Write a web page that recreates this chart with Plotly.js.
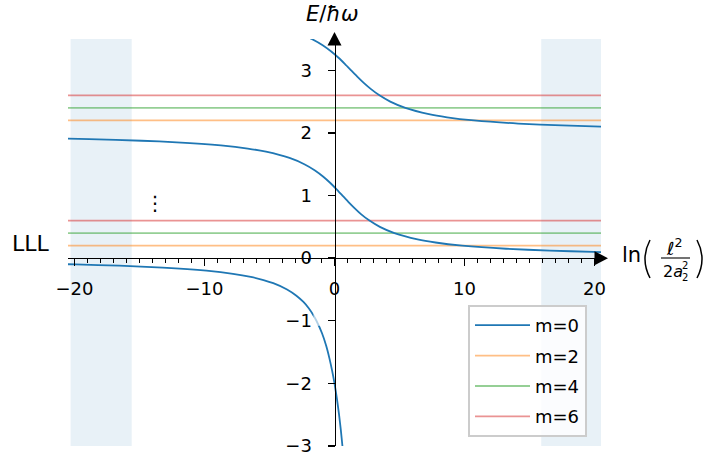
<!DOCTYPE html>
<html><head><meta charset="utf-8">
<script src="https://cdn.plot.ly/plotly-3.0.1.min.js"></script>
<style>html,body{margin:0;padding:0;background:#fff}#chart{width:709px;height:460px}</style>
</head><body><div id="chart"></div>
<script>
// ---- data ----
const xRange = [-20.5, 20.5];
const yRange = [-3, 3.5];
// m=0 branches (x = ln(l^2/2a^2), y = E/hbar omega)
const m0Branch1X = [-20.5, -19.92, -16.57, -13.22, -9.85, -7.81, -6.44, -5.46, -4.71, -3.65, -2.93, -2.39, -1.98, -1.66, -1.39, -0.96, -0.64, -0.39, -0.18, 0.0, 0.19, 0.35, 0.49, 0.61, 0.66];
const m0Branch1Y = [-0.0975, -0.1, -0.12, -0.15, -0.2, -0.25, -0.3, -0.35, -0.4, -0.5, -0.6, -0.7, -0.8, -0.9, -1.0, -1.2, -1.4, -1.6, -1.8, -2.0, -2.25, -2.5, -2.75, -3.0, -3.1];
const m0Branch2X = [-20.5, -18.87, -14.83, -12.14, -8.74, -6.67, -5.27, -3.46, -2.32, -1.50, -0.86, -0.32, 0.16, 0.61, 1.06, 1.54, 2.06, 2.69, 3.49, 4.61, 6.39, 7.77, 9.82, 13.20, 16.56, 19.91, 20.5];
const m0Branch2Y = [1.908, 1.9, 1.875, 1.85, 1.8, 1.75, 1.7, 1.6, 1.5, 1.4, 1.3, 1.2, 1.1, 1.0, 0.9, 0.8, 0.7, 0.6, 0.5, 0.4, 0.3, 0.25, 0.2, 0.15, 0.12, 0.1, 0.0973];
const m0Branch3X = [-2.27, -1.75, -0.91, -0.25, 0.31, 0.81, 1.28, 1.75, 2.25, 2.81, 3.46, 4.29, 5.45, 7.26, 8.66, 10.73, 14.13, 17.51, 20.5];
const m0Branch3Y = [3.55, 3.5, 3.4, 3.3, 3.2, 3.1, 3.0, 2.9, 2.8, 2.7, 2.6, 2.5, 2.4, 2.3, 2.25, 2.2, 2.15, 2.12, 2.102];
// horizontal levels for m=2,4,6
const levelNames = ['m=2', 'm=4', 'm=6'];
const levelValues = [[0.2, 2.2], [0.4, 2.4], [0.6, 2.6]];
const levelColors = ['rgba(255,127,14,0.5)', 'rgba(44,160,44,0.5)', 'rgba(214,39,40,0.5)'];
// shaded regions
const shadeLeft = [-20.3, -15.6];
const shadeRight = [15.9, 20.5];
const xTickVals = [-20, -10, 0, 10, 20];
const yTickVals = [-3, -2, -1, 0, 1, 2, 3];

// ---- geometry helpers (pixel -> paper) ----
const L = 68, T = 39, W = 533, H = 407;
const fx = p => (p - L) / W;
const fy = p => (T + H - p) / H;

const font = 'DejaVu Sans, Verdana, sans-serif';

const traces = [];
traces.push({
  x: [...m0Branch1X, null, ...m0Branch2X, null, ...m0Branch3X],
  y: [...m0Branch1Y, null, ...m0Branch2Y, null, ...m0Branch3Y],
  mode: 'lines', name: 'm=0', line: {color: '#1f77b4', width: 1.8, shape: 'spline', smoothing: 0.6},
  legendrank: 1, legendgroup: 'g0', hoverinfo: 'skip'
});
levelNames.forEach((n, i) => {
  traces.unshift({
    x: [xRange[0], xRange[1], null, xRange[0], xRange[1]],
    y: [levelValues[i][0], levelValues[i][0], null, levelValues[i][1], levelValues[i][1]],
    mode: 'lines', name: n, line: {color: levelColors[i], width: 1.8},
    legendrank: 2 + i, legendgroup: 'g' + (i + 1), hoverinfo: 'skip'
  });
});

const shapes = [
  {type: 'rect', xref: 'x', yref: 'paper', x0: shadeLeft[0], x1: shadeLeft[1], y0: 0, y1: 1,
   fillcolor: 'rgba(31,119,180,0.1)', line: {width: 0}, layer: 'below'},
  {type: 'rect', xref: 'x', yref: 'paper', x0: shadeRight[0], x1: shadeRight[1], y0: 0, y1: 1,
   fillcolor: 'rgba(31,119,180,0.1)', line: {width: 0}, layer: 'below'},
  // faded patch from label background
  {type: 'rect', xref: 'x', yref: 'y', x0: -1.62, x1: -1.0, y0: -1.08, y1: -0.78,
   fillcolor: 'rgba(255,255,255,0.65)', line: {width: 0}, layer: 'above'},
  // axis arrows
  {type: 'path', xref: 'paper', yref: 'paper', xsizemode: 'pixel', ysizemode: 'pixel',
   xanchor: 0.5, yanchor: 1, path: 'M -7,-6.5 L 7,-6.5 L 0,7 Z', fillcolor: 'black', line: {width: 0}},
  {type: 'path', xref: 'paper', yref: 'paper', xsizemode: 'pixel', ysizemode: 'pixel',
   xanchor: 1, yanchor: 3 / 6.5, path: 'M -6.5,-7 L -6.5,7 L 7,0 Z', fillcolor: 'black', line: {width: 0}},
  // x-label fraction bar and parentheses
  {type: 'line', xref: 'paper', yref: 'paper', x0: fx(661), x1: fx(690), y0: fy(258), y1: fy(258), line: {color: 'black', width: 1.1}},
  {type: 'path', xref: 'paper', yref: 'paper', path: `M ${fx(650)},${fy(240)} Q ${fx(640)},${fy(259)} ${fx(650)},${fy(278)}`, line: {color: 'black', width: 1.5}},
  {type: 'path', xref: 'paper', yref: 'paper', path: `M ${fx(697)},${fy(240)} Q ${fx(707)},${fy(259)} ${fx(697)},${fy(278)}`, line: {color: 'black', width: 1.5}}
];

const ann = (x, y, text, size, extra) => Object.assign({xref: 'paper', yref: 'paper', x: fx(x), y: fy(y), text, showarrow: false,
  font: {family: font, size, color: 'black'}, xanchor: 'center', yanchor: 'middle'}, extra || {});
const annotations = [
  ann(332.5, 14, '<i>E</i>/<i>ħω</i>', 21),
  ann(31, 243.5, 'LLL', 22),
  ann(155, 203, '⋮', 20),
  ann(631, 255, 'ln', 21),
  ann(674, 247, '<i>ℓ</i><sup>2</sup>', 18),
  ann(661, 271, '2<i>a</i>', 16, {xanchor: 'left'}),
  ann(685, 265.5, '2', 10),
  ann(685, 277, '2', 10)
];

const axisCommon = {
  showline: true, linecolor: 'black', linewidth: 1.3, ticks: 'outside', ticklen: 7, tickwidth: 1.3,
  tickcolor: 'black', showgrid: false, zeroline: false, anchor: 'free', tickmode: 'array',
  tickfont: {family: font, size: 18, color: 'black'}
};

const layout = {
  width: 709, height: 460,
  margin: {l: L, r: 709 - L - W, t: T, b: 460 - T - H, pad: 0},
  paper_bgcolor: 'white', plot_bgcolor: 'white',
  xaxis: Object.assign({}, axisCommon, {range: xRange, position: 3 / 6.5, tickvals: xTickVals,
    ticklabelstandoff: 7,
    minor: {dtick: 1, tick0: 0, ticks: 'outside', ticklen: 4, tickwidth: 1, tickcolor: 'black', showgrid: false}}),
  yaxis: Object.assign({}, axisCommon, {range: yRange, position: 0.5, tickvals: yTickVals, ticklabelstandoff: 12}),
  showlegend: true,
  legend: {x: fx(468), y: fy(437), xanchor: 'left', yanchor: 'bottom', bgcolor: 'rgba(255,255,255,0.8)',
    bordercolor: '#cccccc', borderwidth: 2, font: {family: font, size: 18, color: 'black'},
    tracegroupgap: 4, traceorder: 'grouped', itemwidth: 55},
  shapes, annotations
};

Plotly.newPlot('chart', traces, layout, {displayModeBar: false, staticPlot: true});
</script></body></html>
